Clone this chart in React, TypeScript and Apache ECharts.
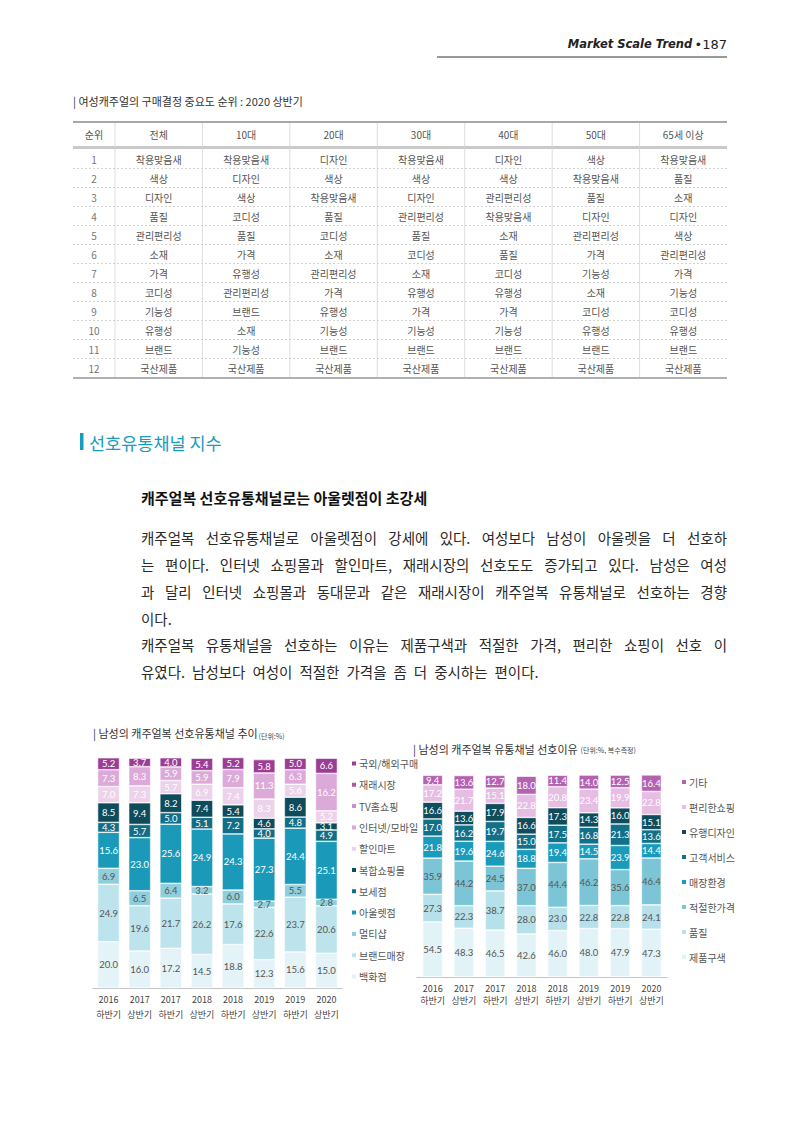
import React, { useEffect, useRef } from "react";
import * as echarts from "echarts";

// ---------- DATA ----------
const periods = ["2016\n하반기", "2017\n상반기", "2017\n하반기", "2018\n상반기", "2018\n하반기", "2019\n상반기", "2019\n하반기", "2020\n상반기"];

// Left chart: preferred channels (legend order, top to bottom)
const channelNames = ["국외/해외구매", "재래시장", "TV홈쇼핑", "인터넷/모바일", "할인마트", "복합쇼핑몰", "보세점", "아울렛점", "멀티샵", "브랜드매장", "백화점"];
const chOverseas = [5.2, 3.7, 4.0, 5.4, 5.2, 5.8, 5.0, 6.6];
const chMarket: number[] = [];
const chTvHome: number[] = [];
const chOnline = [7.3, 8.3, 5.9, 5.9, 7.9, 11.3, 6.3, 16.2];
const chDiscount = [7.0, 7.3, 5.7, 6.9, 7.4, 8.3, 5.6, 5.2];
const chComplex = [8.5, 9.4, 8.2, 7.4, 5.4, 4.6, 8.6, 3.1];
const chBose = [4.3, 5.7, 5.0, 5.1, 7.2, 4.0, 4.8, 4.9];
const chOutlet = [15.6, 23.0, 25.6, 24.9, 24.3, 27.3, 24.4, 25.1];
const chMulti = [6.9, 6.5, 6.4, 3.2, 6.0, 2.7, 5.5, 2.8];
const chBrand = [24.9, 19.6, 21.7, 26.2, 17.6, 22.6, 23.7, 20.6];
const chDept = [20.0, 16.0, 17.2, 14.5, 18.8, 12.3, 15.6, 15.0];
const channelValues = [chOverseas, chMarket, chTvHome, chOnline, chDiscount, chComplex, chBose, chOutlet, chMulti, chBrand, chDept];
const channelColors = ["#9c3d95", "#a85ba4", "#cc8fc8", "#dcaad8", "#ecd2ea", "#0e4b5b", "#126e86", "#1a9ab8", "#8fcfdd", "#bde4ec", "#e3f3f7"];
const channelLabelColors = ["#fff", "#fff", "#fff", "#fff", "#fff", "#fff", "#fff", "#fff", "#555", "#555", "#555"];

// Right chart: reasons (legend order, top to bottom)
const reasonNames = ["기타", "편리한쇼핑", "유행디자인", "고객서비스", "매장환경", "적절한가격", "품질", "제품구색"];
const rsEtc = [9.4, 13.6, 12.7, 18.0, 11.4, 14.0, 12.5, 16.4];
const rsConvenient = [17.2, 21.7, 15.1, 22.8, 20.8, 23.4, 19.9, 22.8];
const rsDesign = [16.6, 13.6, 17.9, 16.6, 17.3, 14.3, 16.0, 15.1];
const rsService = [17.0, 16.2, 19.7, 15.0, 17.5, 16.8, 21.3, 13.6];
const rsStore = [21.8, 19.6, 24.6, 18.8, 19.4, 14.5, 23.9, 14.4];
const rsPrice = [35.9, 44.2, 24.5, 37.0, 44.4, 46.2, 35.6, 46.4];
const rsQuality = [27.3, 22.3, 38.7, 28.0, 23.0, 22.8, 22.8, 24.1];
const rsAssort = [54.5, 48.3, 46.5, 42.6, 46.0, 48.0, 47.9, 47.3];
const reasonValues = [rsEtc, rsConvenient, rsDesign, rsService, rsStore, rsPrice, rsQuality, rsAssort];
const reasonColors = ["#b561b1", "#e6bde3", "#0f4d5c", "#137089", "#1b9bbb", "#7cc5d6", "#b6e0ea", "#e2f3f7"];
const reasonLabelColors = ["#fff", "#fff", "#fff", "#fff", "#fff", "#555", "#555", "#555"];

// Table
const tableHeaders = ["순위", "전체", "10대", "20대", "30대", "40대", "50대", "65세 이상"];
const ranks = ["1", "2", "3", "4", "5", "6", "7", "8", "9", "10", "11", "12"];
const colAll = ["착용맞음새", "색상", "디자인", "품질", "관리편리성", "소재", "가격", "코디성", "기능성", "유행성", "브랜드", "국산제품"];
const col10 = ["착용맞음새", "디자인", "색상", "코디성", "품질", "가격", "유행성", "관리편리성", "브랜드", "소재", "기능성", "국산제품"];
const col20 = ["디자인", "색상", "착용맞음새", "품질", "코디성", "소재", "관리편리성", "가격", "유행성", "기능성", "브랜드", "국산제품"];
const col30 = ["착용맞음새", "색상", "디자인", "관리편리성", "품질", "코디성", "소재", "유행성", "가격", "기능성", "브랜드", "국산제품"];
const col40 = ["디자인", "색상", "관리편리성", "착용맞음새", "소재", "품질", "코디성", "유행성", "가격", "기능성", "브랜드", "국산제품"];
const col50 = ["색상", "착용맞음새", "품질", "디자인", "관리편리성", "가격", "기능성", "소재", "코디성", "유행성", "브랜드", "국산제품"];
const col65 = ["착용맞음새", "품질", "소재", "디자인", "색상", "관리편리성", "가격", "기능성", "코디성", "유행성", "브랜드", "국산제품"];
const tableColumns = [ranks, colAll, col10, col20, col30, col40, col50, col65];

// Texts
const pageHeader = "Market Scale Trend";
const pageNumber = "•187";
const tableTitle = "| 여성캐주얼의 구매결정 중요도 순위 : 2020 상반기";
const sectionTitle = "선호유통채널 지수";
const subTitle = "캐주얼복 선호유통채널로는 아울렛점이 초강세";
const bodyLines = [
  { t: "캐주얼복 선호유통채널로 아울렛점이 강세에 있다. 여성보다 남성이 아울렛을 더 선호하", j: true },
  { t: "는 편이다. 인터넷 쇼핑몰과 할인마트, 재래시장의 선호도도 증가되고 있다. 남성은 여성", j: true },
  { t: "과 달리 인터넷 쇼핑몰과 동대문과 같은 재래시장이 캐주얼복 유통채널로 선호하는 경향", j: true },
  { t: "이다.", j: false },
  { t: "캐주얼복 유통채널을 선호하는 이유는 제품구색과 적절한 가격, 편리한 쇼핑이 선호 이", j: true },
  { t: "유였다. 남성보다 여성이 적절한 가격을 좀 더 중시하는 편이다.", j: false },
];
const leftTitle = "| 남성의 캐주얼복 선호유통채널 추이";
const leftUnit = "(단위:%)";
const rightTitle = "| 남성의 캐주얼복 유통채널 선호이유";
const rightUnit = "(단위:%, 복수측정)";

const KR = '"Noto Sans CJK KR", "Noto Sans", sans-serif';

function txt(x: number, y: number, text: string, o: any = {}) {
  const align = o.align || "left";
  return {
    type: "text",
    x,
    y,
    silent: true,
    style: {
      text,
      fill: o.fill || "#333",
      fontSize: o.fontSize || 10,
      fontFamily: o.fontFamily || KR,
      fontWeight: o.fontWeight || "normal",
      fontStyle: o.fontStyle || "normal",
      textAlign: align,
      align,
      textVerticalAlign: "middle",
      verticalAlign: "middle",
      rich: o.rich,
    },
  };
}

function ln(x1: number, y1: number, x2: number, y2: number, stroke: string, lineWidth: number, lineDash?: number[]) {
  return {
    type: "line",
    silent: true,
    shape: { x1, y1, x2, y2 },
    style: { stroke, lineWidth, lineDash: lineDash || null },
  };
}

export default function App() {
  const ref = useRef<HTMLDivElement>(null);

  useEffect(() => {
    if (!ref.current) return;
    const chart = echarts.init(ref.current, null, { renderer: "svg", width: 800, height: 1131 });

    const cv = document.createElement("canvas");
    const ctx = cv.getContext("2d")!;
    const measure = (s: string, size: number, weight = "normal") => {
      ctx.font = `${weight} ${size}px "Noto Sans CJK KR"`;
      return ctx.measureText(s).width;
    };

    const g: any[] = [];

    // page header
    g.push(
      txt(727, 44, `{a|${pageHeader}} {b|${pageNumber}}`, {
        align: "right",
        rich: {
          a: { fontFamily: "DejaVu Sans", fontStyle: "italic", fontWeight: "bold", fontSize: 11.5, fill: "#222", color: "#222" },
          b: { fontFamily: "DejaVu Sans", fontSize: 13, fill: "#222", color: "#222" },
        },
      })
    );
    g.push(ln(437, 57, 727, 57, "#777", 1.5));

    // table
    g.push(txt(73, 101, tableTitle, { fontSize: 11, fill: "#333" }));
    const tL = 73, tR = 727, c1 = 115;
    const colW = (tR - c1) / 7;
    const centers = [94, ...Array.from({ length: 7 }, (_, k) => c1 + colW * (k + 0.5))];
    const rowY0 = 159, rowH = 19;
    g.push(ln(tL, 122, tR, 122, "#a8a8a8", 2));
    g.push(ln(tL, 147.5, tR, 147.5, "#c9c9c9", 3));
    g.push(ln(tL, 378, tR, 378, "#b0b0b0", 2));
    for (let i = 1; i < 12; i++) {
      const y = rowY0 + rowH * (i - 0.5);
      g.push(ln(tL, y, tR, y, "#c8c8c8", 0.8, [2, 2]));
    }
    for (let k = 0; k < 7; k++) {
      const x = c1 + colW * k;
      g.push(ln(x, 123, x, 377, "#d4d4d4", 0.8));
    }
    tableHeaders.forEach((h, c) => g.push(txt(centers[c], 134, h, { align: "center", fontSize: 10, fill: "#555" })));
    tableColumns.forEach((col, c) =>
      col.forEach((v, r) => g.push(txt(centers[c], rowY0 + rowH * r, v, { align: "center", fontSize: 10, fill: c === 0 ? "#777" : "#555" })))
    );

    // section heading
    g.push({ type: "rect", silent: true, shape: { x: 80, y: 433, width: 3.5, height: 17 }, style: { fill: "#1a9bc0" } });
    g.push(txt(89, 442, sectionTitle, { fontSize: 17.5, fill: "#1a9bc0" }));

    // subheading
    g.push(txt(141, 497, subTitle, { fontSize: 15, fontWeight: "bold", fill: "#111" }));

    // body paragraph (justified)
    const bodyFs = 14.5;
    const bodyX = 141, bodyR = 727;
    const bodyYs = [537, 564, 591, 618, 644, 671];
    bodyLines.forEach((line, i) => {
      const words = line.t.split(" ");
      const ws = words.map((w) => measure(w, bodyFs));
      const sum = ws.reduce((a, b) => a + b, 0);
      const gap = line.j && words.length > 1 ? (bodyR - bodyX - sum) / (words.length - 1) : 7;
      let x = bodyX;
      words.forEach((w, k) => {
        g.push(txt(x, bodyYs[i], w, { fontSize: bodyFs, fill: "#2a2a2a" }));
        x += ws[k] + gap;
      });
    });

    // chart titles
    g.push(txt(93, 733, leftTitle, { fontSize: 11, fill: "#333" }));
    g.push(txt(93 + measure(leftTitle, 11) + 1, 735.5, leftUnit, { fontSize: 7, fill: "#444" }));
    g.push(txt(413, 749, rightTitle, { fontSize: 11, fill: "#333" }));
    g.push(txt(413 + measure(rightTitle, 11) + 3, 749.5, rightUnit, { fontSize: 7, fill: "#444" }));

    const labelFmt = (p: any) => (p.value == null ? "" : Number(p.value).toFixed(1));

    const leftSeries = channelNames
      .map((name, i) => ({
        name,
        type: "bar",
        stack: "L",
        xAxisIndex: 0,
        yAxisIndex: 0,
        barWidth: 22,
        data: channelValues[i],
        itemStyle: { color: channelColors[i], borderColor: "#fff", borderWidth: 0.6 },
        label: { show: true, position: "inside", color: channelLabelColors[i], fontSize: 9.5, fontFamily: "Lato", formatter: labelFmt },
        labelLayout: { hideOverlap: false },
      }))
      .reverse();

    const rightSeries = reasonNames
      .map((name, i) => ({
        name,
        type: "bar",
        stack: "R",
        xAxisIndex: 1,
        yAxisIndex: 1,
        barWidth: 20,
        data: reasonValues[i],
        itemStyle: { color: reasonColors[i], borderColor: "#fff", borderWidth: 0.6 },
        label: { show: true, position: "inside", color: reasonLabelColors[i], fontSize: 9.5, fontFamily: "Lato", formatter: labelFmt },
      }))
      .reverse();

    const xAxisCommon = {
      type: "category",
      data: periods,
      axisTick: { show: false },
      axisLine: { lineStyle: { color: "#c4c4c4", width: 1 } },
    };

    const option: any = {
      animation: false,
      backgroundColor: "#fff",
      grid: [
        { left: 93, top: 757, width: 249, height: 231 },
        { left: 417, top: 775, width: 250, height: 202 },
      ],
      xAxis: [
        { ...xAxisCommon, gridIndex: 0, axisLabel: { interval: 0, fontSize: 9, color: "#444", lineHeight: 15, margin: 4, fontFamily: KR } },
        { ...xAxisCommon, gridIndex: 1, axisLabel: { interval: 0, fontSize: 9, color: "#444", lineHeight: 12, margin: 5, fontFamily: KR } },
      ],
      yAxis: [
        { type: "value", gridIndex: 0, min: 0, max: 100, show: false },
        { type: "value", gridIndex: 1, min: 0, max: 200, show: false },
      ],
      legend: [
        {
          data: channelNames,
          orient: "vertical",
          left: 345,
          top: 752.5,
          icon: "rect",
          itemWidth: 6,
          itemHeight: 6,
          itemGap: 9.3,
          selectedMode: false,
          textStyle: { fontSize: 10, color: "#555", lineHeight: 12, fontFamily: KR, padding: [0, 0, 0, -3] },
        },
        {
          data: reasonNames,
          orient: "vertical",
          left: 675,
          top: 771,
          icon: "rect",
          itemWidth: 6,
          itemHeight: 6,
          itemGap: 13,
          selectedMode: false,
          textStyle: { fontSize: 10, color: "#555", lineHeight: 12, fontFamily: KR, padding: [0, 0, 0, -3] },
        },
      ],
      series: [...leftSeries, ...rightSeries],
      graphic: { elements: g },
    };

    chart.setOption(option);
    return () => chart.dispose();
  }, []);

  return <div ref={ref} style={{ position: "absolute", left: 0, top: 0, width: 800, height: 1131, background: "#fff" }} />;
}
